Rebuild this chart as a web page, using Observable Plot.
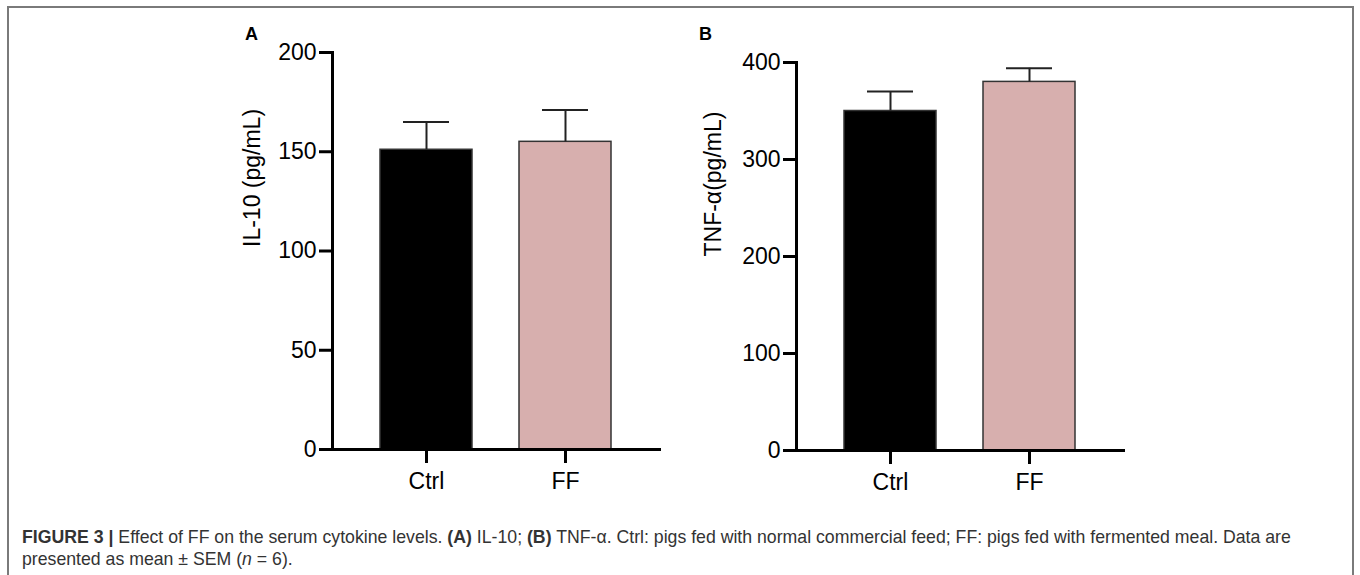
<!DOCTYPE html>
<html>
<head>
<meta charset="utf-8">
<script src="https://cdn.jsdelivr.net/npm/d3@7"></script>
<script src="https://cdn.jsdelivr.net/npm/@observablehq/plot@0.6"></script>
<style>
  html, body { margin: 0; padding: 0; background: #fff; width: 1360px; height: 575px; overflow: hidden; }
  body { position: relative; font-family: "Liberation Sans", Arial, sans-serif; }
  .frameBox { position: absolute; left: 7px; top: 6px; width: 1347px; height: 620px; border: 2px solid #7a7a7a; box-sizing: border-box; }
  .panel { position: absolute; }
  .plabel { position: absolute; font-weight: bold; font-size: 18px; line-height: 18px; color: #000; }
  .caption { position: absolute; left: 22px; top: 526px; font-size: 17.7px; line-height: 22px; color: #333; white-space: nowrap; }
  g[aria-label="y-axis tick"], g[aria-label="x-axis tick"] { stroke-width: 3px; }
</style>
</head>
<body>
<div class="frameBox"></div>
<div class="plabel" style="left:245px; top:25px;">A</div>
<div class="plabel" style="left:699px; top:25px;">B</div>
<div id="panelA" class="panel" style="left:180px; top:20px;"></div>
<div id="panelB" class="panel" style="left:660px; top:20px;"></div>
<div class="caption"><b>FIGURE 3 |</b> Effect of FF on the serum cytokine levels. <b>(A)</b> IL-10; <b>(B)</b> TNF-α. Ctrl: pigs fed with normal commercial feed; FF: pigs fed with fermented meal. Data are<br>presented as mean ± SEM (<i>n</i> = 6).</div>
<script>
const categories = ["Ctrl", "FF"];
const il10Mean = [151, 155];
const il10Sem = [14, 16];
const tnfMean = [350, 380];
const tnfSem = [20, 14];
const barColors = ["#000000", "#d7afae"];
const il10Ticks = [0, 50, 100, 150, 200];
const tnfTicks = [0, 100, 200, 300, 400];
const il10Title = "IL-10 (pg/mL)";
const tnfTitle = "TNF-α(pg/mL)";

function makeData(means, sems) {
  return categories.map((c, i) => ({cat: c, mean: means[i], sem: sems[i]}));
}

function panel(opts) {
  const data = opts.data;
  return Plot.plot({
    width: opts.width,
    height: opts.height,
    marginLeft: opts.marginLeft,
    marginRight: 21,
    marginTop: opts.marginTop,
    marginBottom: opts.marginBottom,
    style: {fontFamily: "'Liberation Sans', Arial, sans-serif", color: "#000", background: "transparent", overflow: "visible"},
    x: {domain: categories, padding: 0.34},
    y: {domain: opts.yDomain},
    color: {domain: categories, range: barColors},
    marks: [
      Plot.barY(data, {x: "cat", y: "mean", fill: "cat", stroke: "#333", strokeWidth: 1.5}),
      Plot.ruleX(data, {x: "cat", y1: "mean", y2: d => d.mean + d.sem, stroke: "#222", strokeWidth: 2}),
      Plot.tickY(data, {x: "cat", y: d => d.mean + d.sem, insetLeft: 23, insetRight: 23, stroke: "#222", strokeWidth: 2}),
      Plot.axisY({ticks: opts.ticks, tickSize: 13, tickPadding: 3, strokeWidth: 3, fontSize: 23, label: null}),
      Plot.axisX({tickSize: 14, tickPadding: 9, strokeWidth: 3, fontSize: 23, label: null}),
      Plot.frame({anchor: "left", strokeWidth: 3, stroke: "#000"}),
      Plot.frame({anchor: "bottom", strokeWidth: 3, stroke: "#000"}),
      Plot.text([opts.title], {frameAnchor: "left", rotate: -90, dx: opts.titleDx, dy: opts.titleDy, fontSize: 23, fill: "#000"})
    ]
  });
}

document.getElementById("panelA").appendChild(panel({
  data: makeData(il10Mean, il10Sem), yDomain: [0, 200], ticks: il10Ticks, title: il10Title,
  width: 500, height: 480, marginLeft: 152, marginTop: 32, marginBottom: 51, titleDx: -80, titleDy: -4
}));
document.getElementById("panelB").appendChild(panel({
  data: makeData(tnfMean, tnfSem), yDomain: [0, 400], ticks: tnfTicks, title: tnfTitle,
  width: 484, height: 480, marginLeft: 136, marginTop: 42, marginBottom: 50, titleDx: -83, titleDy: 0
}));
</script>
</body>
</html>
